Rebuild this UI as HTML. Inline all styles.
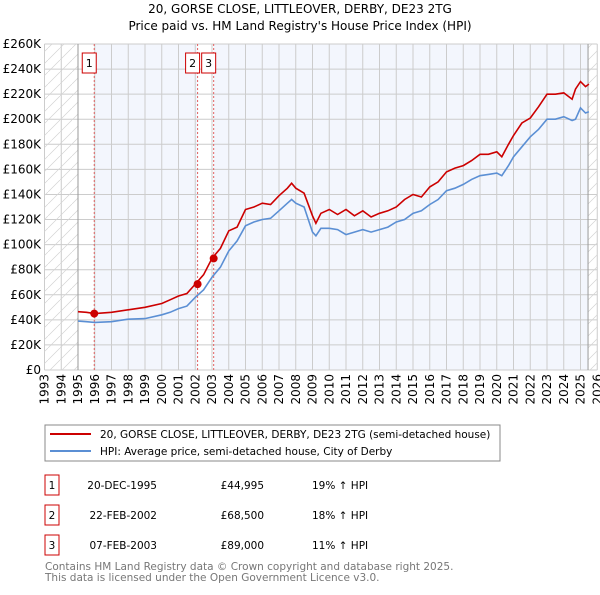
<!DOCTYPE html>
<html><head><meta charset="utf-8"><style>
body{margin:0;background:#fff;font-family:"Liberation Sans","DejaVu Sans",sans-serif;}
svg text{font-family:"DejaVu Sans","Liberation Sans",sans-serif;}
</style></head><body>
<svg id="c" width="600" height="590" xmlns="http://www.w3.org/2000/svg">
<defs><pattern id="h" width="12" height="12" patternUnits="userSpaceOnUse"><path d="M0,12 L12,0" stroke="#d4d4d4" stroke-width="0.7"/></pattern></defs>
<text x="300" y="13" text-anchor="middle" font-size="12">20, GORSE CLOSE, LITTLEOVER, DERBY, DE23 2TG</text>
<text x="300" y="30" text-anchor="middle" font-size="12">Price paid vs. HM Land Registry's House Price Index (HPI)</text>
<g id="plot"></g>
<rect x="45" y="425" width="455" height="36" fill="#fff" stroke="#888"/>
<line x1="50" y1="434" x2="91" y2="434" stroke="#cc0000" stroke-width="2"/>
<text x="100" y="438" font-size="10.5">20, GORSE CLOSE, LITTLEOVER, DERBY, DE23 2TG (semi-detached house)</text>
<line x1="50" y1="451" x2="91" y2="451" stroke="#5b8fd4" stroke-width="2"/>
<text x="100" y="455" font-size="10.5">HPI: Average price, semi-detached house, City of Derby</text>
<g id="tbl" font-size="10.5"></g>
<text x="45" y="570" font-size="10.5" fill="#777">Contains HM Land Registry data © Crown copyright and database right 2025.</text>
<text x="45" y="581" font-size="10.5" fill="#777">This data is licensed under the Open Government Licence v3.0.</text>
</svg>
<script>
const yTicks=[0,20,40,60,80,100,120,140,160,180,200,220,240,260];
const years=[1993,1994,1995,1996,1997,1998,1999,2000,2001,2002,2003,2004,2005,2006,2007,2008,2009,2010,2011,2012,2013,2014,2015,2016,2017,2018,2019,2020,2021,2022,2023,2024,2025,2026];
const hpiT=[1995,1995.5,1996,1997,1998,1999,2000,2000.5,2001,2001.5,2002,2002.5,2003,2003.5,2004,2004.5,2005,2005.5,2006,2006.5,2007,2007.5,2007.75,2008,2008.5,2009,2009.2,2009.5,2010,2010.5,2011,2011.5,2012,2012.5,2013,2013.5,2014,2014.5,2015,2015.5,2016,2016.5,2017,2017.5,2018,2018.5,2019,2019.5,2020,2020.3,2020.7,2021,2021.5,2022,2022.5,2023,2023.5,2024,2024.5,2024.7,2025,2025.3,2025.5];
const hpiV=[39,38.5,38,38.5,40.5,41,44,46,49,51,58,64,74,82,95,103,115,118,120,121,127,133,136,133,130,110,107,113,113,112,108,110,112,110,112,114,118,120,125,127,132,136,143,145,148,152,155,156,157,155,163,170,178,186,192,200,200,202,199,200,209,205,206];
const redV=[46.5,46,45,46,48,50,53,56,59,61,68.5,76,89,97,111,114,128,130,133,132,139,145,149,145,141,123,117,125,128,124,128,123,127,122,125,127,130,136,140,138,146,150,158,161,163,167,172,172,174,170,180,187,197,201,210,220,220,221,216,224,230,226,228];
const saleT=[1995.97,2002.14,2003.1];
const saleV=[44.995,68.5,89];
const saleLbl=["1","2","3"];
const saleDate=["20-DEC-1995","22-FEB-2002","07-FEB-2003"];
const salePrice=["£44,995","£68,500","£89,000"];
const saleHpi=["19% ↑ HPI","18% ↑ HPI","11% ↑ HPI"];
const X0=44.5,PX=16.75,Y0=370,PY=326/260;
const x=t=>X0+(t-1993)*PX, y=v=>Y0-v*PY;
const NS="http://www.w3.org/2000/svg";
const g=document.getElementById('plot');
function el(tag,a,p){const e=document.createElementNS(NS,tag);for(const k in a)e.setAttribute(k,a[k]);(p||g).appendChild(e);return e;}
let e;
e=el('rect',{x:x(1993),y:y(260),width:x(2026)-x(1993),height:y(0)-y(260),fill:'#f3f6fd'});


e=el('rect',{x:x(1995),y:y(260),width:x(saleT[0])-x(1995),height:326,fill:'#fff'});


e=el('rect',{x:x(saleT[1]),y:y(260),width:x(saleT[2])-x(saleT[1]),height:326,fill:'#fff'});


e=el('rect',{x:x(1993),y:y(260),width:x(1995)-x(1993),height:326,fill:'#fff'});


e=el('rect',{x:x(2025.45),y:y(260),width:x(2026)-x(2025.45),height:326,fill:'#fff'});


yTicks.forEach(v=>{
 e=el('line',{x1:x(1993),x2:x(2026),y1:y(v),y2:y(v),stroke:'#ccc'});
 
 
 e=el('text',{x:41,y:y(v)+4,'text-anchor':'end','font-size':12});
 
 
 e.textContent=v===0?'£0':'£'+v+'K';
});
years.forEach(yr=>{
 e=el('line',{x1:x(yr),x2:x(yr),y1:y(0),y2:y(260),stroke:'#ccc'});
 
 
 e=el('text',{transform:`translate(${x(yr)+4},374) rotate(-90)`,'text-anchor':'end','font-size':12});
 
 
 e.textContent=yr;
});
e=el('rect',{x:x(1993),y:y(260),width:x(1995)-x(1993),height:326,fill:'url(#h)'});


e=el('rect',{x:x(2025.45),y:y(260),width:x(2026)-x(2025.45),height:326,fill:'url(#h)'});


e=el('line',{x1:x(1995),x2:x(1995),y1:y(0),y2:y(260),stroke:'#999'});


e=el('line',{x1:x(2025.45),x2:x(2025.45),y1:y(0),y2:y(260),stroke:'#999'});


saleT.forEach((t,i)=>{
 e=el('line',{x1:x(t),x2:x(t),y1:y(0),y2:y(260),stroke:'#e06060','stroke-dasharray':'2,2'});
 
 
 e=el('rect',{x:x(t)-12,y:53,width:14,height:20,fill:'#fff',stroke:'#cc0000'});
 
 
 e=el('text',{x:x(t)-5,y:67,'text-anchor':'middle','font-size':11});
 
 
 e.textContent=saleLbl[i];
});
const pts=v=>hpiT.map((t,i)=>x(t).toFixed(1)+','+y(v[i]).toFixed(1)).join(' ');
e=el('polyline',{points:pts(hpiV),fill:'none',stroke:'#5b8fd4','stroke-width':1.6});


e=el('polyline',{points:pts(redV),fill:'none',stroke:'#cc0000','stroke-width':1.6});


saleT.forEach((t,i)=>{
 e=el('circle',{cx:x(t),cy:y(saleV[i]),r:4,fill:'#cc0000'});
 
 
});
const tb=document.getElementById('tbl');
saleT.forEach((t,i)=>{
 const yy=475+i*30;
 e=el('rect',{x:45,y:yy,width:14,height:20,fill:'#fff',stroke:'#cc0000'},tb);
 
 
 const cols=[[52,saleLbl[i],'middle'],[157,saleDate[i],'end'],[264,salePrice[i],'end'],[312,saleHpi[i],'start']];
 cols.forEach(c=>{
  e=el('text',{x:c[0],y:yy+14,'text-anchor':c[2]},tb);
  
  
  e.textContent=c[1];
 });
});
</script>
</body></html>
